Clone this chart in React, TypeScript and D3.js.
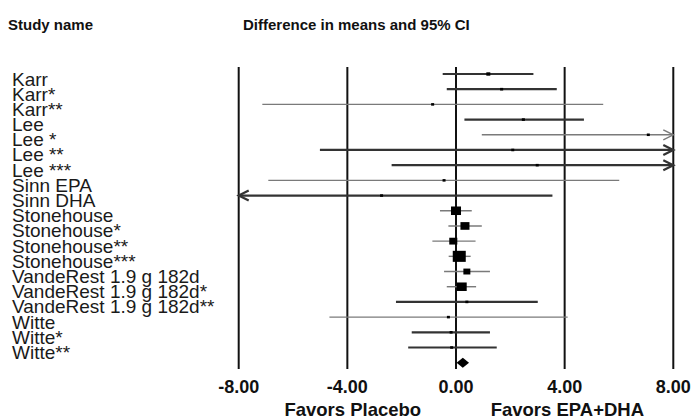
import * as d3 from 'd3';

const studies = [
  'Karr', 'Karr*', 'Karr**', 'Lee', 'Lee *', 'Lee **', 'Lee ***', 'Sinn EPA', 'Sinn DHA',
  'Stonehouse', 'Stonehouse*', 'Stonehouse**', 'Stonehouse***',
  'VandeRest 1.9 g 182d', 'VandeRest 1.9 g 182d*', 'VandeRest 1.9 g 182d**',
  'Witte', 'Witte*', 'Witte**',
];
const means = [1.19, 1.68, -0.86, 2.48, 7.08, 2.09, 2.99, -0.44, -2.74, 0.0, 0.33, -0.1, 0.12, 0.4, 0.21, 0.4, -0.28, -0.18, -0.16];
const lower = [-0.49, -0.34, -7.13, 0.31, 0.95, -5.01, -2.37, -6.91, -9.03, -0.59, -0.28, -0.87, -0.27, -0.44, -0.34, -2.21, -4.66, -1.63, -1.76];
const upper = [2.85, 3.71, 5.42, 4.71, 13.2, 9.19, 8.35, 6.01, 3.55, 0.58, 0.95, 0.72, 0.54, 1.25, 0.74, 3.01, 4.11, 1.25, 1.5];
const weights = [1.5, 0.9, 0.5, 0.9, 0.6, 0.8, 0.8, 0.7, 0.7, 9.5, 7.7, 6.1, 16, 4.6, 9.5, 0.3, 0.7, 0.8, 0.8];
const summary = { mean: 0.25, lower: 0.02, upper: 0.48 };
const ticks = [-8, -4, 0, 4, 8];

// lighter lines for some rows (as drawn in the source figure)
const grayRows = new Set(['Karr**', 'Lee *', 'Sinn EPA', 'Stonehouse', 'Stonehouse*', 'Stonehouse**', 'Stonehouse***', 'VandeRest 1.9 g 182d', 'VandeRest 1.9 g 182d*', 'Witte']);

const W = 691;
const H = 419;
const font = '"Liberation Sans", Arial, sans-serif';

export default function App() {
  const x = d3.scaleLinear().domain([-8, 8]).range([238.7, 673.3]);
  const y = d3.scalePoint<number>().domain(d3.range(studies.length + 1)).range([74, 362.7]);
  const size = d3.scaleSqrt().domain([0, 16]).range([0, 13]);
  const [xmin, xmax] = x.domain();
  const top = 67;
  const bottom = 369;

  const rows = studies.map((name, i) => ({
    name,
    mean: means[i],
    lo: lower[i],
    hi: upper[i],
    w: weights[i],
    y: y(i) as number,
  }));
  const sy = y(studies.length) as number;

  return (
    <svg width={W} height={H} style={{ position: 'absolute', left: 0, top: 0, background: '#fff' }} fontFamily={font}>
      <text x={8} y={30} fontSize={15} fontWeight="bold" fill="#111">Study name</text>
      <text x={243} y={30} fontSize={15} fontWeight="bold" fill="#111">Difference in means and 95% CI</text>

      {ticks.map((t) => (
        <g key={t}>
          <line x1={x(t)} x2={x(t)} y1={top} y2={bottom} stroke="#111" strokeWidth={2} />
          <text x={x(t)} y={393} fontSize={18} fontWeight="bold" textAnchor="middle" fill="#111">
            {t.toFixed(2)}
          </text>
        </g>
      ))}

      {rows.map((r) => {
        const gray = grayRows.has(r.name);
        const col = gray ? '#7a7a7a' : '#333';
        const sw = gray ? 1.4 : 2.2;
        const a = Math.max(r.lo, xmin);
        const b = Math.min(r.hi, xmax);
        const s = Math.max(size(r.w), 3);
        return (
          <g key={r.name}>
            <text x={12} y={r.y + 11.5} fontSize={19} fill="#1a1a1a">{r.name}</text>
            <line x1={x(a)} x2={x(b)} y1={r.y} y2={r.y} stroke={col} strokeWidth={sw} />
            {r.hi > xmax && (
              <path d={`M${x(xmax) - 10},${r.y - 5}L${x(xmax)},${r.y}L${x(xmax) - 10},${r.y + 5}`} fill="none" stroke={col} strokeWidth={sw} />
            )}
            {r.lo < xmin && (
              <path d={`M${x(xmin) + 10},${r.y - 5}L${x(xmin)},${r.y}L${x(xmin) + 10},${r.y + 5}`} fill="none" stroke={col} strokeWidth={sw} />
            )}
            <rect x={x(r.mean) - s / 2} y={r.y - (s * 0.85) / 2} width={s} height={s * 0.85} fill="#000" />
          </g>
        );
      })}

      <path
        d={`M${x(summary.lower)},${sy}L${x(summary.mean)},${sy - 5}L${x(summary.upper)},${sy}L${x(summary.mean)},${sy + 5}Z`}
        fill="#000"
      />

      <text x={x(-3.8)} y={416} fontSize={18.5} fontWeight="bold" textAnchor="middle" fill="#111">Favors Placebo</text>
      <text x={x(4.1)} y={416} fontSize={18.5} fontWeight="bold" textAnchor="middle" fill="#111">Favors EPA+DHA</text>
    </svg>
  );
}
